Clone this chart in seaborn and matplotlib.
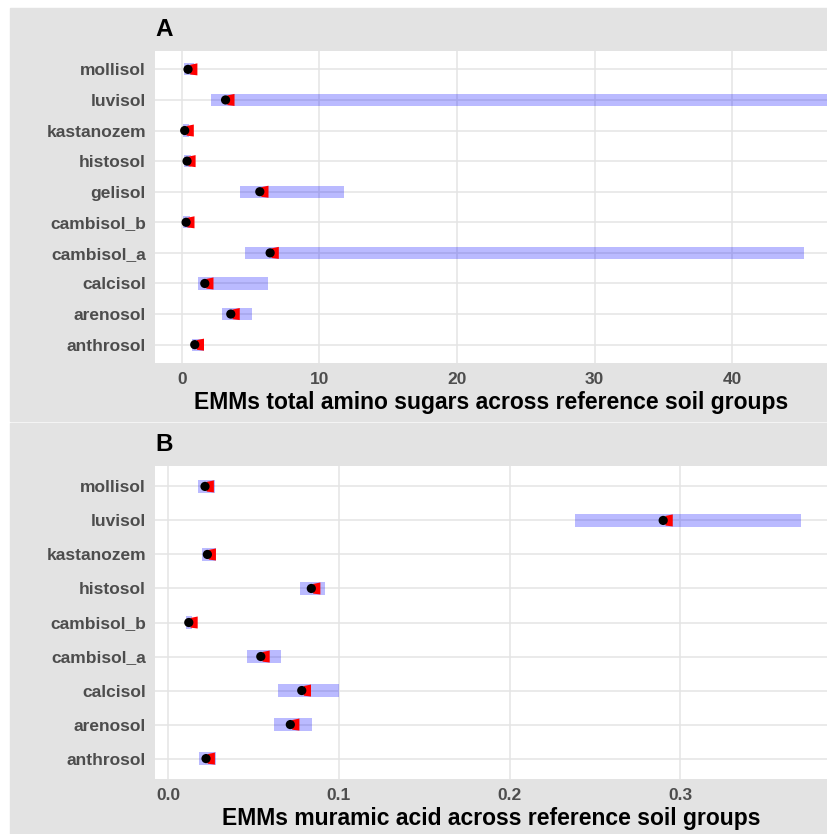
import numpy as np
import pandas as pd
import matplotlib
matplotlib.use("Agg")
import matplotlib.pyplot as plt
from matplotlib.patches import Rectangle
from matplotlib.path import Path
import seaborn as sns

sns.set_theme(style="whitegrid")
plt.rcParams['font.family'] = ['Liberation Sans', 'DejaVu Sans']

# Panel A: total amino sugars (bottom -> top)
soils_a = ["anthrosol", "arenosol", "calcisol", "cambisol_a", "cambisol_b",
           "gelisol", "histosol", "kastanozem", "luvisol", "mollisol"]
emm_a = [0.93, 3.55, 1.66, 6.41, 0.30, 5.66, 0.37, 0.20, 3.17, 0.44]
cmp_a = [1.34, 3.94, 2.03, 6.78, 0.65, 6.03, 0.73, 0.60, 3.56, 0.86]
lo_a = [0.73, 2.90, 1.17, 4.57, 0.10, 4.25, 0.15, 0.05, 2.10, 0.15]
hi_a = [1.63, 5.10, 6.27, 45.2, 0.55, 11.8, 0.65, 0.50, 60.0, 0.85]

# Panel B: muramic acid (bottom -> top)
soils_b = ["anthrosol", "arenosol", "calcisol", "cambisol_a", "cambisol_b",
           "histosol", "kastanozem", "luvisol", "mollisol"]
emm_b = [0.0221, 0.0715, 0.0782, 0.0542, 0.0120, 0.0838, 0.0229, 0.2900, 0.0215]
cmp_b = [0.0252, 0.0747, 0.0815, 0.0573, 0.0151, 0.0870, 0.0258, 0.2935, 0.0246]
lo_b = [0.0182, 0.0620, 0.0643, 0.0460, 0.0104, 0.0772, 0.0198, 0.2384, 0.0176]
hi_b = [0.0278, 0.0842, 0.1000, 0.0659, 0.0141, 0.0919, 0.0278, 0.3707, 0.0274]

W, H = 827, 834
fig = plt.figure(figsize=(W / 100, H / 100), dpi=100)
fig.patch.set_facecolor("white")

gray = "#E3E3E3"
# gray plot backgrounds with white separator
fig.patches.append(Rectangle((10 / W, 1 - 421 / H), 1, (421 - 8) / H,
                             transform=fig.transFigure, color=gray, zorder=-10))
fig.patches.append(Rectangle((10 / W, 0), 1, 1 - 423 / H,
                             transform=fig.transFigure, color=gray, zorder=-10))

red_mark = Path([(-0.6, 0.75), (0.6, 1.0), (0.6, -1.0), (-0.6, -0.85), (-0.6, 0.75)],
                [Path.MOVETO, Path.LINETO, Path.LINETO, Path.LINETO, Path.CLOSEPOLY])


def panel(ax, soils, emm, cmp_, lo, hi, xlim, ticks, ticklabels, xlabel, letter, barh):
    df = pd.DataFrame({"soil": soils, "emm": emm, "cmp": cmp_, "lo": lo, "hi": hi})
    ax.set_facecolor("white")
    ax.barh(df["soil"], df["hi"] - df["lo"], left=df["lo"], height=barh,
            color=(0, 0, 1), alpha=0.27, linewidth=0, zorder=2)
    sns.scatterplot(data=df, x="cmp", y="soil", marker=red_mark, s=75, color="red",
                    edgecolor="none", linewidth=0, ax=ax, zorder=3)
    sns.scatterplot(data=df, x="emm", y="soil", s=44, color="black",
                    edgecolor="none", linewidth=0, ax=ax, zorder=4)
    ax.set_xlim(*xlim)
    ax.set_ylim(-0.6, len(soils) - 0.4)
    ax.set_xticks(ticks)
    ax.set_xticklabels(ticklabels)
    ax.grid(True, color="#E4E4E4", linewidth=1.1, zorder=0)
    ax.set_axisbelow(True)
    for s in ax.spines.values():
        s.set_visible(False)
    ax.tick_params(axis="both", which="both", length=3.5, width=0.9, color="#444444",
                   labelsize=12.5, labelcolor="#4D4D4D", pad=3)
    for lab in ax.get_xticklabels() + ax.get_yticklabels():
        lab.set_fontweight("bold")
    ax.set_xlabel(xlabel, fontsize=16.5, fontweight="bold", color="black", labelpad=3)
    ax.set_ylabel("")
    ax.text(0, 1.07, letter, transform=ax.transAxes, fontsize=17.5, fontweight="bold",
            color="black", ha="left", va="center")


ax_a = fig.add_axes([155 / W, 1 - 363 / H, 1 - 155 / W, (363 - 51) / H])
panel(ax_a, soils_a, emm_a, cmp_a, lo_a, hi_a, (-1.96, 46.9),
      [0, 10, 20, 30, 40], ["0", "10", "20", "30", "40"],
      "EMMs total amino sugars across reference soil groups", "A", 0.4)

ax_b = fig.add_axes([155 / W, 1 - 779 / H, 1 - 155 / W, (779 - 466) / H])
panel(ax_b, soils_b, emm_b, cmp_b, lo_b, hi_b, (-0.0078, 0.386),
      [0.0, 0.1, 0.2, 0.3], ["0.0", "0.1", "0.2", "0.3"],
      "EMMs muramic acid across reference soil groups", "B", 0.38)

fig.savefig("out.png", dpi=100)
